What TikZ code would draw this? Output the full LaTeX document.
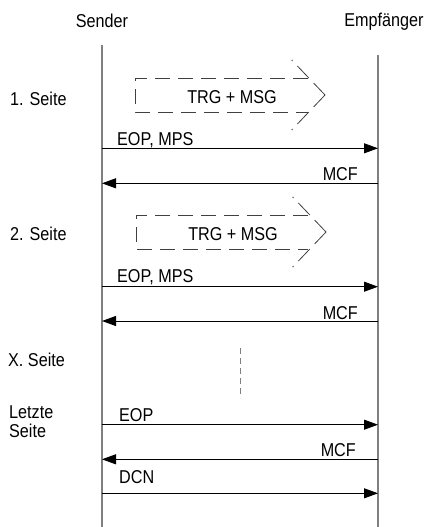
\documentclass[tikz,border=0pt]{standalone}
\usepackage{fontspec}
\setmainfont[FakeStretch=0.87]{Liberation Sans}
\usetikzlibrary{arrows.meta}
\begin{document}
\begin{tikzpicture}[x=1pt,y=-1pt,
  lbl/.style={inner sep=0pt,font=\fontsize{18.6}{19.4}\selectfont},
  life/.style={draw=black!50,line width=1.3pt},
  msgr/.style={draw=black,line width=0.9pt,-{Triangle[length=14pt,width=10pt]}},
  dashbox/.style={draw=black!75,line width=0.8pt,dash pattern=on 15pt off 8pt},
  headdash/.style={draw=black!75,line width=0.8pt,dash pattern=on 16.5pt off 7pt},
  dots/.style={draw=black!50,line width=1pt,dash pattern=on 6pt off 4pt}]
\useasboundingbox (0,0) rectangle (425,527);
% lifelines
\coordinate (stop) at (102,45);
\coordinate (sbot) at (102,527);
\coordinate (rtop) at (378,55);
\coordinate (rbot) at (378,527);
\draw[life] (stop) -- (sbot);
\draw[life] (rtop) -- (rbot);
% headers
\node[lbl,anchor=base] (hs) at (102,28) {Sender};
\node[lbl,anchor=base] (hr) at (384,27) {Empfänger};
% side labels
\node[lbl,anchor=base west] (p1) at (10,105) {1. Seite};
\node[lbl,anchor=base west] (p2) at (10,240) {2. Seite};
\node[lbl,anchor=base west] (px) at (8,366) {X. Seite};
\node[lbl,anchor=north west,align=left] (pl) at (9,405) {Letzte\\Seite};
% dashed arrows
\draw[dashbox] (308,78) -- (135,78) -- (135,112) -- (308,112);
\draw[headdash] (325,95) -- (291.7,60);
\draw[headdash] (325,95) -- (291.7,130);
\node[lbl,anchor=base] (d1) at (232,103.3) {TRG + MSG};
\draw[dashbox] (308,215) -- (136,215) -- (136,249) -- (308,249);
\draw[headdash] (326,232) -- (292.7,197);
\draw[headdash] (326,232) -- (292.7,267);
\node[lbl,anchor=base] (d2) at (233,240.5) {TRG + MSG};
% messages
\foreach \n/\y in {1/148.3,2/183.3,3/286.7,4/321,5/424.7,6/459.3,7/493.3}{
  \coordinate (s\n) at (102,\y);
  \coordinate (r\n) at (378,\y);
}
\draw[msgr] (s1) -- (r1);
\node[lbl,anchor=base west] (m1) at (117,145) {EOP, MPS};
\draw[msgr] (r2) -- (s2);
\node[lbl,anchor=base east] (m2) at (358,180) {MCF};
\draw[msgr] (s3) -- (r3);
\node[lbl,anchor=base west] (m3) at (117,282.3) {EOP, MPS};
\draw[msgr] (r4) -- (s4);
\node[lbl,anchor=base east] (m4) at (358,319.3) {MCF};
\draw[msgr] (s5) -- (r5);
\node[lbl,anchor=base west] (m5) at (119,421.7) {EOP};
\draw[msgr] (r6) -- (s6);
\node[lbl,anchor=base east] (m6) at (356,456) {MCF};
\draw[msgr] (s7) -- (r7);
\node[lbl,anchor=base west] (m7) at (119,483.3) {DCN};
% ellipsis
\coordinate (vt) at (240,348);
\coordinate (vb) at (240,398);
\draw[dots] (vt) -- (vb);
\end{tikzpicture}
\end{document}
